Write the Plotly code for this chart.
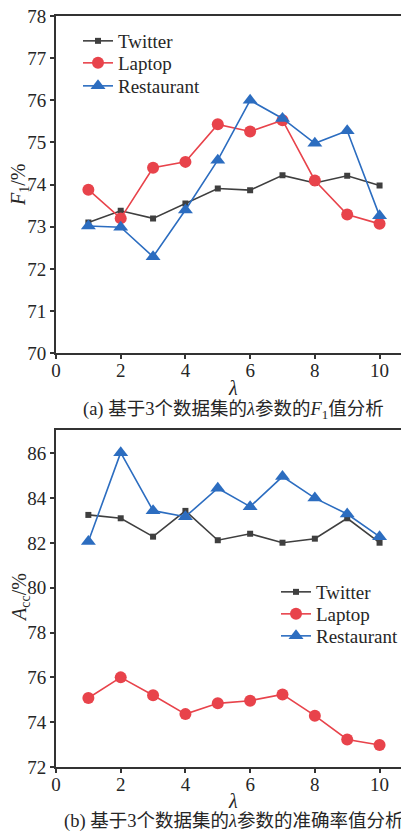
import plotly.graph_objects as go

lam = [1, 2, 3, 4, 5, 6, 7, 8, 9, 10]

f1_twitter = [73.10, 73.38, 73.20, 73.55, 73.91, 73.87, 74.22, 74.04, 74.21, 73.98]
f1_laptop = [73.88, 73.20, 74.40, 74.54, 75.43, 75.26, 75.53, 74.10, 73.29, 73.07]
f1_restaurant = [73.02, 72.99, 72.29, 73.40, 74.58, 76.00, 75.57, 74.98, 75.28, 73.26]

acc_twitter = [83.25, 83.10, 82.28, 83.43, 82.12, 82.41, 82.01, 82.19, 83.10, 82.01]
acc_laptop = [75.08, 76.00, 75.20, 74.36, 74.84, 74.96, 75.24, 74.29, 73.23, 72.98]
acc_restaurant = [82.06, 86.03, 83.44, 83.17, 84.44, 83.62, 84.96, 84.00, 83.29, 82.28]

series_names = ["Twitter", "Laptop", "Restaurant"]
x_ticks = [0, 2, 4, 6, 8, 10]
f1_ticks = [70, 71, 72, 73, 74, 75, 76, 77, 78]
acc_ticks = [72, 74, 76, 78, 80, 82, 84, 86]

FONT = "Liberation Serif, Times New Roman, Noto Sans CJK SC, serif"
TXT = "#262626"
GRAY = "#3f3f3f"
RED = "#e8434b"
BLUE = "#2c6dc0"
AX = "#333333"

styles = [
    dict(color=GRAY, symbol="square", size=6),
    dict(color=RED, symbol="circle", size=12),
    dict(color=BLUE, symbol="triangle-up", size=13),
]

# page body has an 8px margin; the figure is offset accordingly
OFF = 8
W, H = 409 - OFF, 832 - OFF


def px(x):
    return (x - OFF) / W


def py(y):
    return 1 - (y - OFF) / H


fig = go.Figure()

top = [f1_twitter, f1_laptop, f1_restaurant]
bot = [acc_twitter, acc_laptop, acc_restaurant]

top_rows = [41, 63, 86]
bot_rows = [592, 614, 636]

legend_layout = {}
li = 1
for panel, (data, xa, ya, lx, rows) in enumerate([
        (top, "x", "y", 78, top_rows),
        (bot, "x2", "y2", 276, bot_rows)]):
    for name, ys, st, ry in zip(series_names, data, styles, rows):
        lname = "legend" if li == 1 else f"legend{li}"
        fig.add_trace(go.Scatter(
            x=lam, y=ys, name=name, mode="lines+markers",
            line=dict(color=st["color"], width=1.6),
            marker=dict(color=st["color"], symbol=st["symbol"], size=st["size"]),
            xaxis=xa, yaxis=ya, legend=lname,
        ))
        legend_layout[lname] = dict(
            x=px(lx), y=py(ry), xanchor="left", yanchor="middle",
            font=dict(family=FONT, size=19, color=TXT),
            bgcolor="rgba(0,0,0,0)", itemwidth=30,
        )
        li += 1

axis_common = dict(
    showline=True, linecolor=AX, linewidth=2, mirror=True,
    ticks="outside", ticklen=4, tickwidth=1.5, tickcolor=AX,
    showgrid=False, zeroline=False, automargin=False,
    ticklabeloverflow="allow",
    tickfont=dict(family=FONT, size=19, color=TXT),
)

fig.update_layout(
    width=W, height=H,
    margin=dict(l=0, r=0, t=0, b=0, autoexpand=False),
    paper_bgcolor="white", plot_bgcolor="white",
    font=dict(family=FONT, color=TXT),
    xaxis=dict(domain=[px(56), 1], range=[0, 10.91], tickvals=x_ticks, anchor="y",
               ticklabelstandoff=-5, **axis_common),
    yaxis=dict(domain=[py(353.3), py(16)], range=[70, 78], tickvals=f1_ticks, anchor="x", **axis_common),
    xaxis2=dict(domain=[px(56), 1], range=[0, 10.91], tickvals=x_ticks, anchor="y2",
                ticklabelstandoff=-5, **axis_common),
    yaxis2=dict(domain=[py(767), py(430)], range=[72, 87.04], tickvals=acc_ticks, anchor="x2", **axis_common),
    showlegend=True,
    **legend_layout,
)

ann = [
    dict(text="<i>F</i><sub>1</sub>/%", x=px(20), y=py(185), textangle=-90, size=20),
    dict(text="<i>A</i><sub>cc</sub>/%", x=px(20), y=py(598), textangle=-90, size=20),
    dict(text="<i>λ</i>", x=px(232.5), y=py(388), textangle=0, size=20),
    dict(text="<i>λ</i>", x=px(232.5), y=py(801), textangle=0, size=20),
    dict(text="(a) 基于3个数据集的<i>λ</i>参数的<i>F</i><sub>1</sub>值分析", x=px(233), y=py(410), textangle=0, size=18.5),
    dict(text="(b) 基于3个数据集的<i>λ</i>参数的准确率值分析", x=px(233), y=py(821), textangle=0, size=18.5),
]
for a in ann:
    sz = a.pop("size")
    fig.add_annotation(xref="paper", yref="paper", showarrow=False,
                       xanchor="center", yanchor="middle",
                       font=dict(family=FONT, size=sz, color=TXT), **a)

fig.write_html("out.html")
